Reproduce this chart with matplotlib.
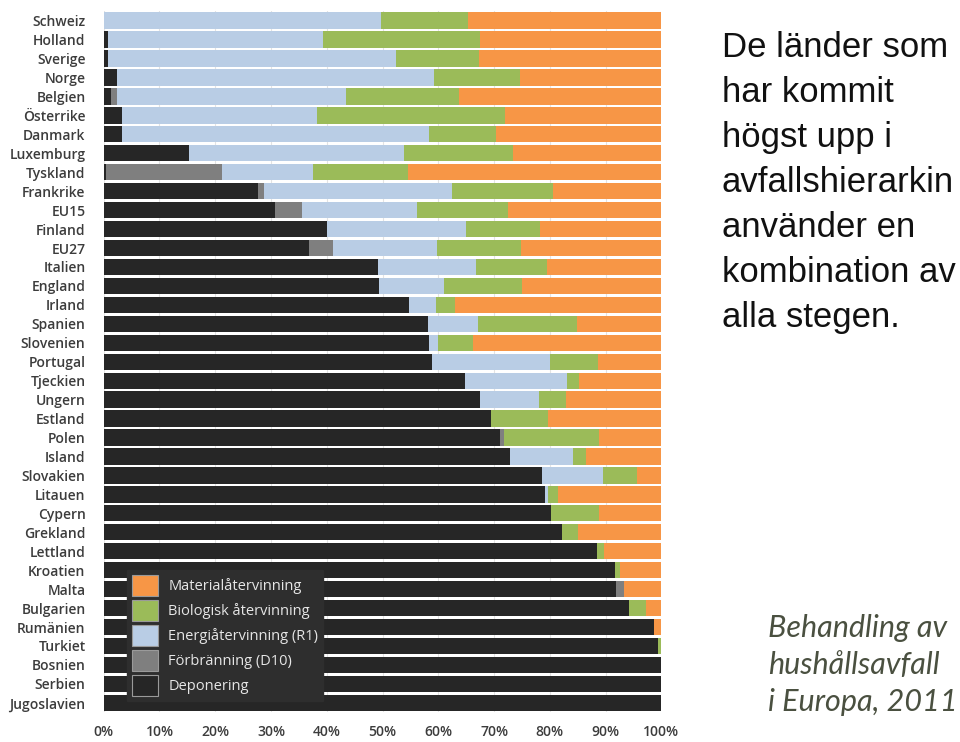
"""Behandling av hushållsavfall i Europa, 2011 — 100% stacked bars."""
import numpy as np
import matplotlib
matplotlib.use("Agg")
import matplotlib.pyplot as plt
from matplotlib.patches import Patch
from matplotlib.ticker import PercentFormatter

countries = ["Schweiz", "Holland", "Sverige", "Norge", "Belgien", "Österrike",
             "Danmark", "Luxemburg", "Tyskland", "Frankrike", "EU15", "Finland",
             "EU27", "Italien", "England", "Irland", "Spanien", "Slovenien",
             "Portugal", "Tjeckien", "Ungern", "Estland", "Polen", "Island",
             "Slovakien", "Litauen", "Cypern", "Grekland", "Lettland", "Kroatien",
             "Malta", "Bulgarien", "Rumänien", "Turkiet", "Bosnien", "Serbien",
             "Jugoslavien"]

# shares in percent
deponering = [0, 0.7, 0.7, 2.3, 1.3, 3.2, 3.3, 15.3, 0.4, 27.6, 30.7, 40.0,
              36.8, 49.2, 49.4, 54.8, 58.2, 58.3, 58.9, 64.8, 67.4, 69.5, 71.0,
              72.8, 78.5, 79.2, 80.2, 82.2, 88.4, 91.6, 91.9, 94.1, 98.7, 99.3,
              100, 100, 100]
forbranning = [0, 0, 0, 0, 1.0, 0, 0, 0, 20.8, 1.1, 4.8, 0, 4.3, 0, 0, 0, 0, 0,
               0, 0, 0, 0, 0.8, 0, 0, 0, 0, 0, 0, 0, 1.4, 0, 0, 0, 0, 0, 0]
energi = [49.7, 38.6, 51.7, 56.9, 41.1, 35.0, 55.0, 38.6, 16.3, 33.8, 20.7, 25.0,
          18.7, 17.6, 11.6, 4.8, 8.9, 1.7, 21.2, 18.2, 10.7, 0, 0, 11.3, 11.1,
          0.4, 0, 0, 0, 0, 0, 0, 0, 0, 0, 0, 0]
biologisk = [15.7, 28.2, 14.9, 15.5, 20.3, 33.8, 12.1, 19.5, 17.1, 18.1, 16.3,
             13.3, 15.1, 12.6, 14.0, 3.4, 17.8, 6.2, 8.5, 2.3, 4.8, 10.2, 17.0,
             2.3, 6.0, 1.8, 8.6, 2.8, 1.3, 0.9, 0, 3.2, 0, 0.7, 0, 0, 0]
material = [34.6, 32.5, 32.7, 25.3, 36.3, 28.0, 29.6, 26.6, 45.4, 19.4, 27.5,
            21.7, 25.1, 20.6, 25.0, 37.0, 15.1, 33.8, 11.4, 14.7, 17.1, 20.3,
            11.2, 13.6, 4.4, 18.6, 11.2, 15.0, 10.3, 7.5, 6.7, 2.7, 1.3, 0, 0, 0,
            0]

series = [
    ("Deponering", deponering, "#262626"),
    ("Förbränning (D10)", forbranning, "#7f7f7f"),
    ("Energiåtervinning (R1)", energi, "#b9cde5"),
    ("Biologisk återvinning", biologisk, "#9bbb59"),
    ("Materialåtervinning", material, "#f79646"),
]

fig = plt.figure(figsize=(9.6, 7.42), dpi=100)
ax = fig.add_axes([0.108, 0.04, 0.581, 0.945])

y = np.arange(len(countries))
left = np.zeros(len(countries))
for name, vals, col in series:
    vals = np.array(vals, dtype=float)
    ax.barh(y, vals, left=left, height=0.86, color=col, edgecolor="none", zorder=2)
    left += vals

ax.set_ylim(len(countries) - 0.5, -0.5)
ax.set_xlim(0, 100)
ax.set_yticks(y)
ax.set_yticklabels(countries, fontsize=10, fontweight="semibold", color="#3c3c3c",
                   family="Open Sans")
ax.set_xticks(np.arange(0, 101, 10))
ax.xaxis.set_major_formatter(PercentFormatter(decimals=0))
for lab in ax.get_xticklabels():
    lab.set_fontsize(10)
    lab.set_fontweight("semibold")
    lab.set_color("#3c3c3c")
    lab.set_family("Open Sans")
ax.tick_params(axis="y", length=0, pad=13)
ax.tick_params(axis="x", length=0, pad=9)
ax.grid(axis="x", color="#e3e3e3", lw=0.8, zorder=0)
for s in ax.spines.values():
    s.set_visible(False)

handles = [Patch(facecolor=c, edgecolor="#9a9a9a", lw=0.8, label=n)
           for n, _, c in series[::-1]]
leg = fig.legend(handles=handles, loc="upper left",
                 bbox_to_anchor=(0.132, 0.232), frameon=True, fancybox=False,
                 facecolor="#2e2e2e", edgecolor="#2e2e2e", framealpha=1,
                 handlelength=1.8, handleheight=1.8, handletextpad=0.7,
                 labelspacing=0.3, borderpad=0.35, borderaxespad=0,
                 prop={"family": "Open Sans", "size": 10.5})
for t in leg.get_texts():
    t.set_color("#e6e6e6")

fig.text(0.752, 0.958, "De länder som\nhar kommit\nhögst upp i\navfallshierarkin\n"
         "använder en\nkombination av\nalla stegen.",
         ha="left", va="top", fontsize=25, family="Liberation Sans",
         color="#111111", linespacing=1.46)

fig.text(0.80, 0.172, "Behandling av\nhushållsavfall\ni Europa, 2011",
         ha="left", va="top", fontsize=22, family="Lato", style="italic",
         color="#4a5040", linespacing=1.38)

fig.savefig("out.png", dpi=100)
